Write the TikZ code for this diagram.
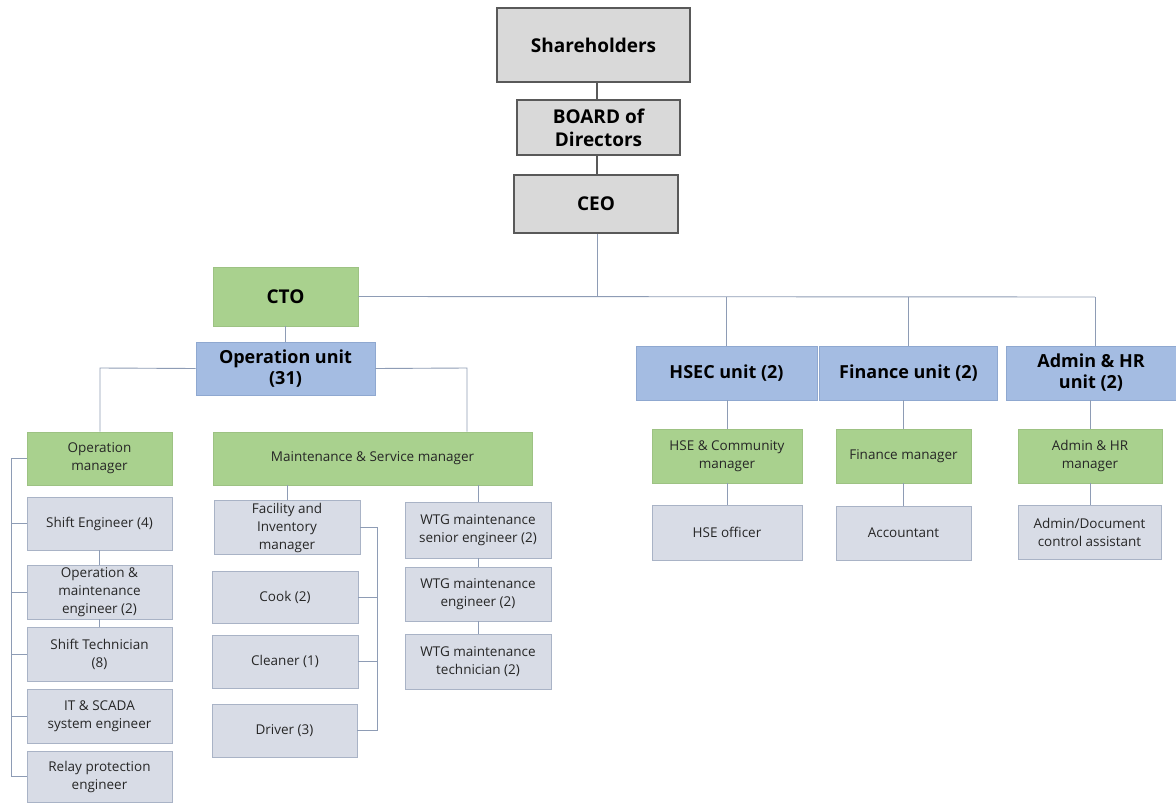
\documentclass[tikz,border=0pt]{standalone}
\usepackage{fontspec}
\setmainfont{Open Sans}
\definecolor{topfill}{HTML}{D9D9D9}
\definecolor{topline}{HTML}{595959}
\definecolor{grfill}{HTML}{A9D18E}
\definecolor{grline}{HTML}{9DC283}
\definecolor{blfill}{HTML}{A4BCE2}
\definecolor{blline}{HTML}{8FA8D0}
\definecolor{ltfill}{HTML}{D8DCE6}
\definecolor{ltline}{HTML}{A9B3C6}
\definecolor{conn}{HTML}{8E9CB5}
\definecolor{txt}{HTML}{262626}
\begin{document}
\begin{tikzpicture}[x=1pt,y=-1pt,
  base/.style={rectangle,inner sep=2pt,align=center,anchor=center},
  topbox/.style={base,fill=topfill,draw=topline,line width=2pt,font=\bfseries\fontsize{19}{23}\selectfont,text=black},
  grbig/.style={base,fill=grfill,draw=grline,line width=0.8pt,font=\bfseries\fontsize{19}{23}\selectfont,text=black},
  blbox/.style={base,fill=blfill,draw=blline,line width=0.8pt,font=\bfseries\fontsize{18}{21}\selectfont,text=black},
  grsm/.style={base,fill=grfill,draw=grline,line width=0.8pt,font=\fontsize{13.5}{18}\selectfont,text=txt},
  ltbox/.style={base,fill=ltfill,draw=ltline,line width=0.8pt,font=\fontsize{13.5}{18}\selectfont,text=txt},
  sz/.style 2 args={minimum width=#1pt,minimum height=#2pt},
  toplink/.style={draw=topline,line width=2pt},
  link/.style={draw=conn,line width=0.9pt}]
\useasboundingbox[fill=white] (0,0) rectangle (1176,803);

% top chain
\node[topbox,sz={193}{74}] (sh) at (593.5,45) {Shareholders};
\node[topbox,sz={163}{55}] (bd) at (598.5,127.5) {BOARD of\\Directors};
\node[topbox,sz={164}{58}] (ceo) at (596,204) {CEO};

% second level
\node[grbig,sz={145}{59}] (cto) at (285.5,296.5) {CTO};
\node[blbox,sz={179}{53}] (opu) at (285.5,368.5) {Operation unit\\(31)};
\node[blbox,sz={181}{54}] (hsec) at (726.5,373) {HSEC unit (2)};
\node[blbox,sz={178}{54}] (fin) at (908.5,373) {Finance unit (2)};
\node[blbox,sz={170}{54}] (adm) at (1091,373) {Admin \& HR\\unit (2)};

% support units
\node[grsm,sz={150}{54}] (hsem) at (727,456) {HSE \& Community\\manager};
\node[grsm,sz={135}{54}] (finm) at (903.5,456) {Finance manager};
\node[grsm,sz={144}{54}] (admm) at (1090,456) {Admin \& HR\\manager};
\node[ltbox,sz={150}{55}] (hseo) at (727,532.5) {HSE officer};
\node[ltbox,sz={135}{54}] (acc) at (903.5,533) {Accountant};
\node[ltbox,sz={143}{54}] (admd) at (1089.5,532) {Admin/Document\\control assistant};

% operation manager branch
\node[grsm,sz={145}{53}] (opm) at (99.5,458.5) {Operation\\manager};
\node[ltbox,sz={145}{53}] (se) at (99.5,523.5) {Shift Engineer (4)};
\node[ltbox,sz={145}{54}] (ome) at (99.5,592) {Operation \&\\maintenance\\engineer (2)};
\node[ltbox,sz={145}{54}] (st) at (99.5,654) {Shift Technician\\(8)};
\node[ltbox,sz={145}{54}] (it) at (99.5,716) {IT \& SCADA\\system engineer};
\node[ltbox,sz={145}{51}] (rp) at (99.5,776.5) {Relay protection\\engineer};

% maintenance branch
\node[grsm,sz={319}{53}] (msm) at (372.5,458.5) {Maintenance \& Service manager};
\node[ltbox,sz={146}{53}] (fim) at (287,527.5) {Facility and\\Inventory\\manager};
\node[ltbox,sz={146}{52}] (cook) at (285,597) {Cook (2)};
\node[ltbox,sz={146}{53}] (cln) at (285,661.5) {Cleaner (1)};
\node[ltbox,sz={145}{53}] (drv) at (284.5,730.5) {Driver (3)};
\node[ltbox,sz={146}{56}] (wsr) at (478,530) {WTG maintenance\\senior engineer (2)};
\node[ltbox,sz={146}{54}] (weng) at (478,594) {WTG maintenance\\engineer (2)};
\node[ltbox,sz={146}{55}] (wtec) at (478,661.5) {WTG maintenance\\technician (2)};

% junction coordinates
\coordinate (hj) at (597,297);
\coordinate (hend) at (1095,297);
\coordinate (oplj) at (100,368);
\coordinate (oprj) at (467,368);
\coordinate (lb) at (11,0);
\coordinate (rb) at (377,0);
\coordinate (c1) at (597,0);

% connectors
\draw[toplink] (c1 |- sh.south) -- (c1 |- bd.north);
\draw[toplink] (c1 |- bd.south) -- (c1 |- ceo.north);
\draw[link] (c1 |- ceo.south) -- (hj);
\draw[link] (cto.east) -- (hend);
\draw[link] (hsec.north) -- (hsec.north |- hj);
\draw[link] (fin.north) -- (fin.north |- hj);
\draw[link] (hend) -- (hend |- adm.north);
\draw[link] (cto.south) -- (opu.north);
\draw[link] (hsem.north |- hsec.south) -- (hsem.north);
\draw[link] (finm.north |- fin.south) -- (finm.north);
\draw[link] (admm.north |- adm.south) -- (admm.north);
\draw[link] (hsem.south) -- (hsem.south |- hseo.north);
\draw[link] (finm.south) -- (finm.south |- acc.north);
\draw[link] (admm.south) -- (admm.south |- admd.north);

\draw[link] (opu.west) -- (oplj) -- (oplj |- opm.north);
\draw[link] (opu.east) -- (oprj) -- (oprj |- msm.north);

% left bracket
\draw[link] (opm.west) -- (lb |- opm.west) -- (lb |- rp.west) -- (rp.west);
\draw[link] (se.west) -- (lb |- se.west);
\draw[link] (ome.west) -- (lb |- ome.west);
\draw[link] (st.west) -- (lb |- st.west);
\draw[link] (it.west) -- (lb |- it.west);
\draw[link] (se.south) -- (ome.north);
\draw[link] (ome.south) -- (st.north);

% maintenance connectors
\draw[link] (fim.north |- msm.south) -- (fim.north);
\draw[link] (wsr.north |- msm.south) -- (wsr.north);
\draw[link] (wsr.south) -- (weng.north);
\draw[link] (weng.south) -- (wtec.north);
\draw[link] (fim.east) -- (rb |- fim.east) -- (rb |- drv.east) -- (drv.east);
\draw[link] (cook.east) -- (rb |- cook.east);
\draw[link] (cln.east) -- (rb |- cln.east);
\end{tikzpicture}
\end{document}
